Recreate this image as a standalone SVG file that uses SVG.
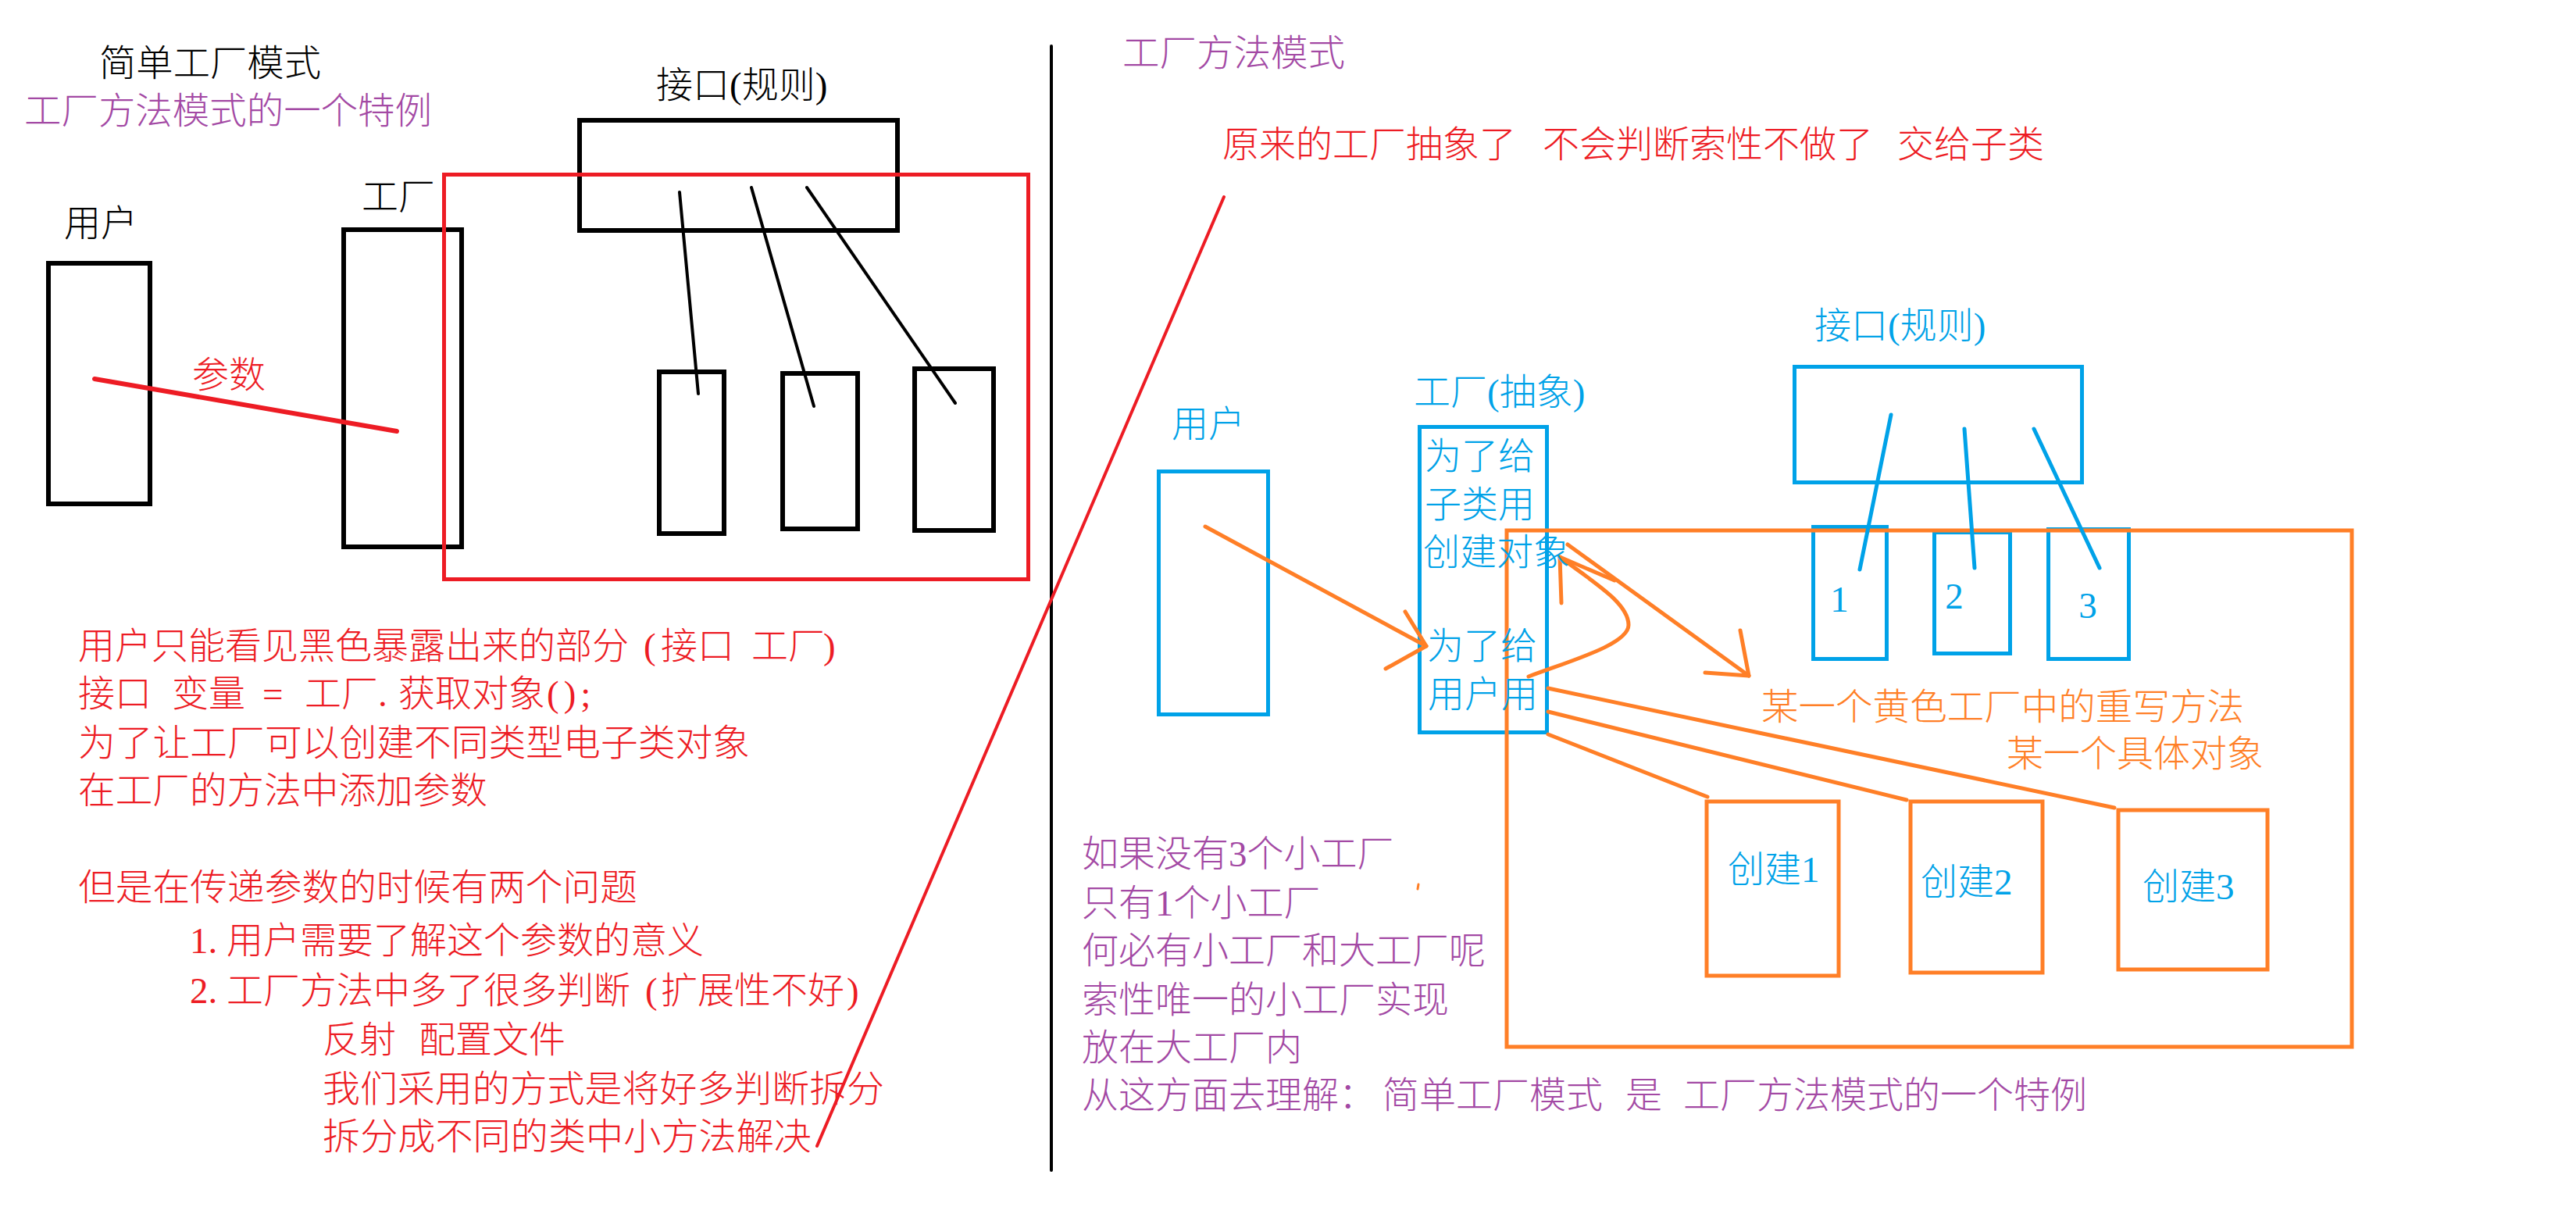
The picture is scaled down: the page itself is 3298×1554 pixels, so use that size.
<svg xmlns="http://www.w3.org/2000/svg" width="3298" height="1554" viewBox="0 0 3298 1554">
<style>
text{font-family:"Liberation Serif","Noto Sans CJK SC",serif;font-size:47px;font-weight:300;}
.k{fill:#000}
.r{fill:#ED1C24}
.p{fill:#A349A4}
.b{fill:#00A2E8}
.o{fill:#FF7F27}
.bx{fill:none;stroke:#000;stroke-width:6}
.rb{fill:none;stroke:#ED1C24;stroke-width:5}
.bb{fill:none;stroke:#00A2E8;stroke-width:5}
.ob{fill:none;stroke:#FF7F27;stroke-width:5}
.ln{fill:none;stroke-linecap:round;stroke-linejoin:round}
</style>
<rect width="3298" height="1554" fill="#fff"/>

<!-- Left: simple factory -->
<g id="title-left">
<text class="k" x="127" y="97" textLength="284" lengthAdjust="spacingAndGlyphs">简单工厂模式</text>
<text class="p" x="31" y="158" textLength="522" lengthAdjust="spacingAndGlyphs">工厂方法模式的一个特例</text>
</g>
<g id="user-left">
<rect class="bx" x="62" y="337" width="130" height="308"/>
<text class="k" x="82" y="302">用户</text>
</g>
<g id="factory-left">
<rect class="bx" x="440" y="294" width="151" height="406"/>
<text class="k" x="463" y="268">工厂</text>
</g>
<g id="interface-left">
<rect class="bx" x="742" y="154" width="407" height="141"/>
<text class="k" x="840" y="125">接口(规则)</text>
</g>
<g id="impl1-left"><rect class="bx" x="844" y="476" width="83" height="207"/></g>
<g id="impl2-left"><rect class="bx" x="1002" y="478" width="96" height="199"/></g>
<g id="impl3-left"><rect class="bx" x="1171" y="472" width="101" height="207"/></g>
<g id="hidden-region"><rect class="rb" x="568.5" y="223.5" width="748" height="518"/></g>

<g id="notes-left" class="r">
<text class="r" y="843"><tspan x="100">用户只能看见黑色暴露出来的部分</tspan><tspan x="824">(</tspan><tspan x="846">接口</tspan><tspan x="962">工厂</tspan><tspan x="1054">)</tspan></text>
<text class="r" y="904"><tspan x="100">接口</tspan><tspan x="220">变量</tspan><tspan x="336">=</tspan><tspan x="390">工厂.</tspan><tspan x="510">获取对象</tspan><tspan x="700" letter-spacing="6">();</tspan></text>
<text class="r" x="100" y="967" textLength="860" lengthAdjust="spacingAndGlyphs">为了让工厂可以创建不同类型电子类对象</text>
<text class="r" x="100" y="1028" textLength="524" lengthAdjust="spacingAndGlyphs">在工厂的方法中添加参数</text>
<text class="r" x="100" y="1152" textLength="716" lengthAdjust="spacingAndGlyphs">但是在传递参数的时候有两个问题</text>
<text class="r" y="1220"><tspan x="243">1.</tspan><tspan x="290">用户需要了解这个参数的意义</tspan></text>
<text class="r" y="1284"><tspan x="243">2.</tspan><tspan x="290">工厂方法中多了很多判断</tspan><tspan x="826">(</tspan><tspan x="846">扩展性不好</tspan><tspan x="1084">)</tspan></text>
<text class="r" y="1347"><tspan x="413">反射</tspan><tspan x="536">配置文件</tspan></text>
<text class="r" x="413" y="1410" textLength="719" lengthAdjust="spacingAndGlyphs">我们采用的方式是将好多判断拆分</text>
<text class="r" x="413" y="1471" textLength="626" lengthAdjust="spacingAndGlyphs">拆分成不同的类中小方法解决</text>
</g>

<!-- Right: factory method -->
<g id="title-right">
<text class="p" x="1437" y="84" textLength="285" lengthAdjust="spacingAndGlyphs">工厂方法模式</text>
<text class="r" y="201" font-size="46.5"><tspan x="1565">原来的工厂抽象了</tspan><tspan x="1975">不会判断索性不做了</tspan><tspan x="2429">交给子类</tspan></text>
</g>
<g id="user-right">
<rect class="bb" x="1483.5" y="603.5" width="140" height="311"/>
<text class="b" x="1500" y="559">用户</text>
</g>
<g id="factory-right">
<rect class="bb" x="1817.5" y="546.5" width="163" height="391"/>
<text class="b" x="1810" y="518">工厂(抽象)</text>
</g>
<g id="interface-right">
<rect class="bb" x="2297.5" y="469.5" width="368" height="148"/>
<text class="b" x="2323" y="433">接口(规则)</text>
</g>
<g id="impl1-right"><rect class="bb" x="2321.5" y="674.5" width="94" height="169"/><text class="b" x="2355" y="783" font-size="46" text-anchor="middle">1</text></g>
<g id="impl2-right"><rect class="bb" x="2476.5" y="681.5" width="97" height="155"/><text class="b" x="2502" y="779" font-size="46" text-anchor="middle">2</text></g>
<g id="impl3-right"><rect class="bb" x="2622.5" y="677.5" width="103" height="166"/><text class="b" x="2673" y="791" font-size="46" text-anchor="middle">3</text></g>
<g id="subclass-region"><rect class="ob" x="1929" y="679" width="1082" height="661"/></g>
<g id="create1"><rect class="ob" stroke-width="6" x="2185" y="1026" width="169" height="223"/><text class="b" x="2212" y="1129">创建1</text></g>
<g id="create2"><rect class="ob" stroke-width="6" x="2446" y="1026" width="169" height="219"/><text class="b" x="2459" y="1145">创建2</text></g>
<g id="create3"><rect class="ob" stroke-width="6" x="2712" y="1037" width="191" height="204"/><text class="b" x="2743" y="1151">创建3</text></g>

<!-- connectors -->
<g id="connectors" class="ln">
<line x1="1346" y1="59" x2="1346" y2="1498" stroke="#000" stroke-width="4"/>
<line x1="1567" y1="252" x2="1046" y2="1467" stroke="#ED1C24" stroke-width="4"/>
<line x1="121" y1="485" x2="508" y2="552" stroke="#ED1C24" stroke-width="6"/>
<line x1="870" y1="246" x2="894" y2="504" stroke="#000" stroke-width="4"/>
<line x1="962" y1="240" x2="1042" y2="520" stroke="#000" stroke-width="4"/>
<line x1="1033" y1="240" x2="1223" y2="516" stroke="#000" stroke-width="4"/>
<line x1="2421" y1="531" x2="2381" y2="729" stroke="#00A2E8" stroke-width="5"/>
<line x1="2515" y1="549" x2="2528" y2="727" stroke="#00A2E8" stroke-width="5"/>
<line x1="2604" y1="549" x2="2688" y2="727" stroke="#00A2E8" stroke-width="5"/>
<g stroke="#FF7F27" stroke-width="5">
<line x1="1543" y1="674" x2="1826" y2="827"/>
<polyline points="1799,783 1826,827 1774,856"/>
<path d="M1957,866 C2010,846 2085,825 2085,800 C2085,772 2040,745 1997,713"/>
<polyline points="1999,772 1997,713 2067,743"/>
<line x1="2007" y1="697" x2="2239" y2="865"/>
<polyline points="2228,807 2239,865 2183,861"/>
<line x1="1982" y1="881" x2="2707" y2="1034"/>
<line x1="1982" y1="911" x2="2441" y2="1024"/>
<line x1="1982" y1="940" x2="2186" y2="1020"/>
<line x1="1816" y1="1132" x2="1815" y2="1138" stroke-width="3"/>
</g>
</g>
<text id="param-label" class="r" x="246" y="496">参数</text>

<g id="factory-right-text" class="b">
<text class="b" x="1824" y="600">为了给</text>
<text class="b" x="1824" y="662">子类用</text>
<text class="b" x="1822" y="723">创建对象</text>
<text class="b" x="1827" y="843">为了给</text>
<text class="b" x="1828" y="905">用户用</text>
</g>
<g id="notes-right">
<text class="o" x="2255" y="921" textLength="618" lengthAdjust="spacingAndGlyphs">某一个黄色工厂中的重写方法</text>
<text class="o" x="2569" y="981" textLength="329" lengthAdjust="spacingAndGlyphs">某一个具体对象</text>
<text class="p" x="1385" y="1109">如果没有3个小工厂</text>
<text class="p" x="1385" y="1172">只有1个小工厂</text>
<text class="p" x="1385" y="1233">何必有小工厂和大工厂呢</text>
<text class="p" x="1385" y="1296">索性唯一的小工厂实现</text>
<text class="p" x="1385" y="1357">放在大工厂内</text>
<text class="p" y="1418"><tspan x="1385">从这方面去理解：</tspan><tspan x="1770">简单工厂模式</tspan><tspan x="2081">是</tspan><tspan x="2155">工厂方法模式的一个特例</tspan></text>
</g>
</svg>
